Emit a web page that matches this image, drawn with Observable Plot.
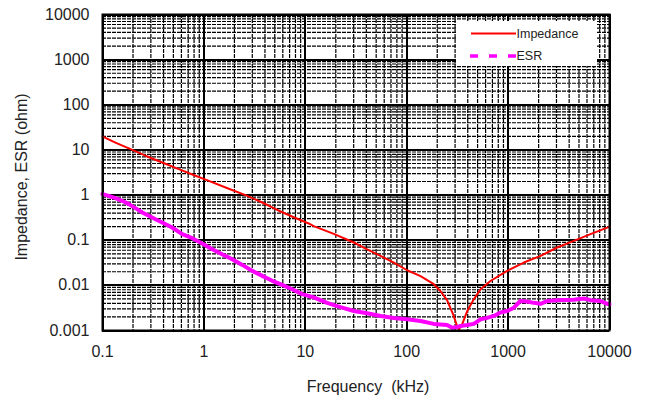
<!DOCTYPE html>
<html>
<head>
<meta charset="utf-8">
<script src="https://cdn.jsdelivr.net/npm/d3@7"></script>
<script src="https://cdn.jsdelivr.net/npm/@observablehq/plot@0.6"></script>
<style>
  html, body { margin: 0; padding: 0; background: #fff; }
  svg { display: block; }
</style>
</head>
<body>
<div id="chart"></div>
<script>
// Frequency (kHz) and impedance (ohm)
const impFreq = [0.1, 0.107, 0.134, 0.182, 0.265, 0.388, 0.565, 0.826, 1.04, 1.76, 2.57, 3.76, 5.48, 8.0, 10.8, 12.1, 19.1, 30.1, 40.7, 55.2, 74.6, 101, 137, 185, 215, 250, 291, 315, 327, 352, 395, 459, 535, 670, 980, 1430, 2090, 3050, 4450, 6500, 9490, 10000];
const impValues = [20, 18.5, 14.5, 10.8, 7.45, 5.28, 3.77, 2.68, 2.2, 1.38, 1.0, 0.684, 0.45, 0.31, 0.235, 0.205, 0.138, 0.089, 0.063, 0.045, 0.032, 0.0216, 0.016, 0.0106, 0.0075, 0.0047, 0.0021, 0.00122, 0.00106, 0.00137, 0.0027, 0.0049, 0.0082, 0.0125, 0.021, 0.032, 0.045, 0.069, 0.097, 0.136, 0.19, 0.2];

// Frequency (kHz) and ESR (ohm)
const esrFreq = [0.1, 0.115, 0.134, 0.156, 0.182, 0.211, 0.247, 0.286, 0.333, 0.388, 0.486, 0.611, 0.767, 0.962, 1.21, 1.51, 1.90, 2.39, 3.0, 3.76, 4.72, 5.92, 7.43, 9.31, 12.1, 16.4, 22.2, 30.1, 40.7, 55.2, 74.6, 101, 137, 185, 250, 281, 315, 340, 395, 459, 535, 622, 723, 841, 980, 1140, 1320, 1540, 1790, 2090, 2430, 3050, 4450, 5580, 6500, 8150, 9490, 10000];
const esrValues = [1.05, 0.96, 0.857, 0.746, 0.63, 0.514, 0.411, 0.347, 0.292, 0.247, 0.191, 0.136, 0.111, 0.0843, 0.0632, 0.049, 0.038, 0.0284, 0.0209, 0.0162, 0.0126, 0.0102, 0.0082, 0.0064, 0.0054, 0.0041, 0.0033, 0.0027, 0.0024, 0.0021, 0.0019, 0.00177, 0.00162, 0.0014, 0.00132, 0.00115, 0.0012, 0.00126, 0.00132, 0.0014, 0.00177, 0.0019, 0.0021, 0.0025, 0.0027, 0.0032, 0.0045, 0.0044, 0.0041, 0.0039, 0.0045, 0.0047, 0.0048, 0.0051, 0.0047, 0.0045, 0.0039, 0.0038];

// Ticks
const xTicks = [0.1, 1, 10, 100, 1000, 10000];
const xTickLabels = ["0.1", "1", "10", "100", "1000", "10000"];
const yTicks = [0.001, 0.01, 0.1, 1, 10, 100, 1000, 10000];
const yTickLabels = ["0.001", "0.01", "0.1", "1", "10", "100", "1000", "10000"];
const minorSteps = [2, 3, 4, 5, 6, 7, 8, 9];

const xMinor = xTicks.slice(0, -1).flatMap(d => minorSteps.map(m => d * m));
const yMinor = yTicks.slice(0, -1).flatMap(d => minorSteps.map(m => d * m));

const impData = impFreq.map((f, i) => ({f, v: impValues[i]}));
const esrData = esrFreq.map((f, i) => ({f, v: esrValues[i]}));

const FONT = "'Liberation Sans', Arial, sans-serif";

const chart = Plot.plot({
  width: 648,
  height: 401,
  marginLeft: 102,
  marginRight: 39,
  marginTop: 14,
  marginBottom: 71,
  style: {fontFamily: FONT, fontSize: "16px", background: "#fff", color: "#222"},
  x: {type: "log", domain: [0.1, 10000]},
  y: {type: "log", domain: [0.001, 10000]},
  marks: [
    Plot.ruleX(xMinor, {stroke: "#000", strokeWidth: 1.2, strokeDasharray: "4,1"}),
    Plot.ruleY(yMinor, {stroke: "#000", strokeWidth: 1.2, strokeDasharray: "4,1"}),
    Plot.ruleX(xTicks, {stroke: "#000", strokeWidth: 2, shapeRendering: "crispEdges"}),
    Plot.ruleY(yTicks, {stroke: "#000", strokeWidth: 2, shapeRendering: "crispEdges"}),
    Plot.line(impData, {x: "f", y: "v", stroke: "#ff0000", strokeWidth: 2}),
    Plot.line(esrData, {x: "f", y: "v", stroke: "#ff00ff", strokeWidth: 4}),
    Plot.frame({stroke: "#000", strokeWidth: 2}),
    Plot.axisX(xTicks, {tickSize: 0, tickPadding: 15, fontSize: 16, label: null,
      tickFormat: d => xTickLabels[xTicks.indexOf(d)]}),
    Plot.axisY(yTicks, {tickSize: 0, tickPadding: 13, fontSize: 16, label: null,
      tickFormat: d => yTickLabels[yTicks.indexOf(d)]})
  ]
});

document.getElementById("chart").appendChild(chart);

const svg = d3.select(chart);

// Axis titles
svg.append("text")
  .attr("x", 368).attr("y", 392)
  .attr("text-anchor", "middle")
  .attr("font-family", FONT).attr("font-size", 16)
  .attr("fill", "#222")
  .style("white-space", "pre")
  .text("Frequency  (kHz)");

svg.append("text")
  .attr("transform", "translate(27,177) rotate(-90)")
  .attr("text-anchor", "middle")
  .attr("font-family", FONT).attr("font-size", 16)
  .attr("fill", "#222")
  .text("Impedance, ESR (ohm)");

// Legend
const lg = svg.append("g").attr("font-family", FONT).attr("font-size", 12.5).attr("text-anchor", "start");
lg.append("rect").attr("x", 456).attr("y", 21).attr("width", 141).attr("height", 45).attr("fill", "#fff");
lg.append("line").attr("x1", 471).attr("x2", 516).attr("y1", 33.5).attr("y2", 33.5)
  .attr("stroke", "#ff0000").attr("stroke-width", 2);
lg.append("text").attr("x", 516.5).attr("y", 33.5).attr("dy", "0.35em").attr("fill", "#222").text("Impedance");
lg.append("line").attr("x1", 470).attr("x2", 516).attr("y1", 56).attr("y2", 56)
  .attr("stroke", "#ff00ff").attr("stroke-width", 3.5).attr("stroke-dasharray", "8,11");
lg.append("text").attr("x", 516.5).attr("y", 56).attr("dy", "0.35em").attr("fill", "#222").text("ESR");
</script>
</body>
</html>
